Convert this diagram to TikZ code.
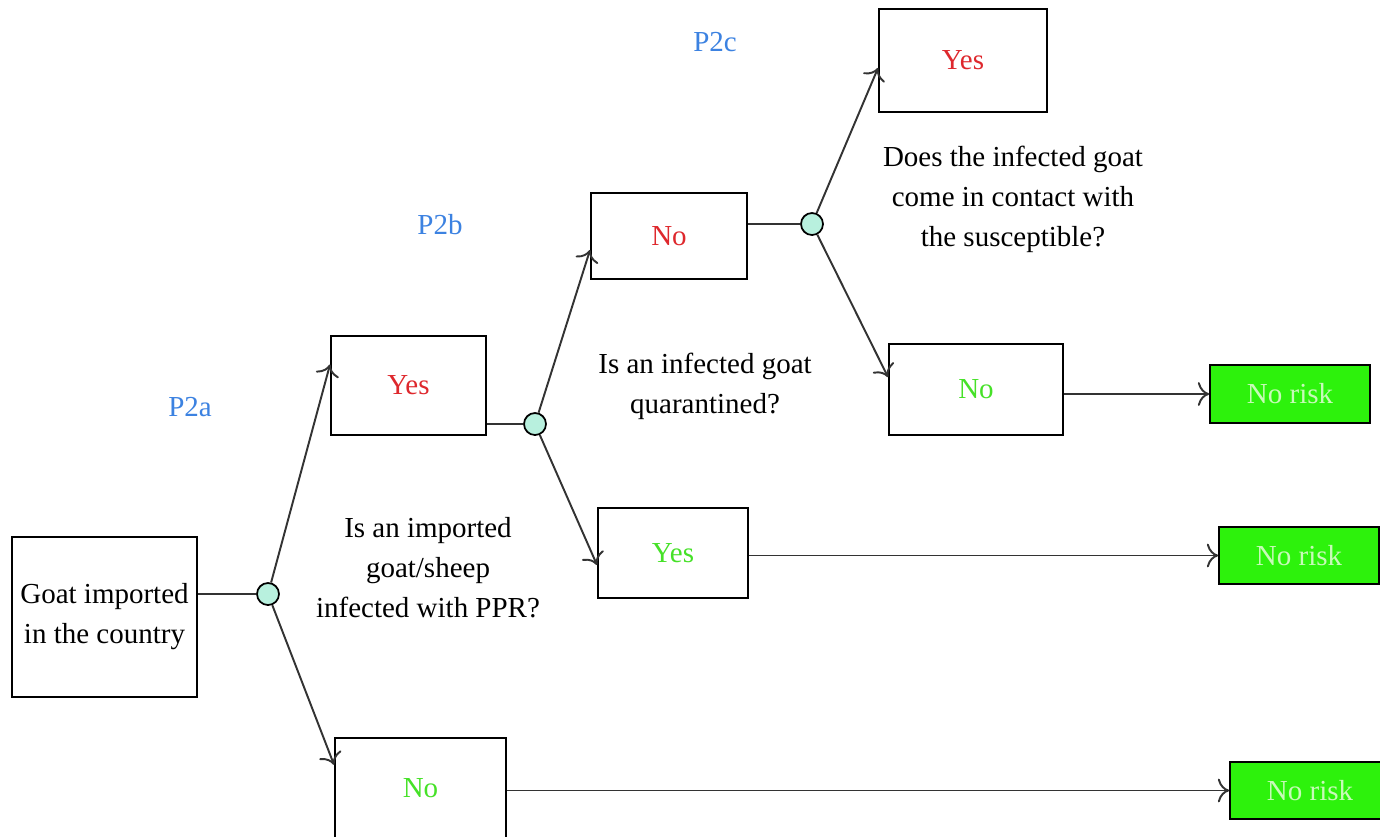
\documentclass[tikz,border=0pt]{standalone}
\usepackage{fontspec}
\setmainfont{Liberation Serif}
\usetikzlibrary{arrows.meta}
\definecolor{mint}{RGB}{184,240,222}
\definecolor{plabel}{RGB}{60,130,225}
\definecolor{yesred}{RGB}{222,40,45}
\definecolor{nogreen}{RGB}{70,225,40}
\definecolor{riskfill}{RGB}{45,242,12}
\definecolor{risktext}{RGB}{200,250,185}
\begin{document}
\begin{tikzpicture}
	[x=0.02cm,y=-0.02cm,font=\fontsize{16.5}{22.7}\selectfont,>={To[scale=1.6]},
	box/.style={rectangle,draw,line width=1.1pt,inner sep=0pt,align=center},
	chance/.style={circle,draw,line width=1pt,fill=mint,minimum size=0.44cm,inner sep=0pt},
	risk/.style={rectangle,draw,line width=1pt,fill=riskfill,text=risktext,inner sep=0pt,minimum width=3.2cm,minimum height=1.15cm},
	plab/.style={text=plabel},
	quest/.style={align=center},
	conn/.style={line width=1.1pt,black!80}]
	\useasboundingbox (0,0) rectangle (1380,836);
	% start and chance nodes
	\node[box,name=goat,minimum width=3.7cm,minimum height=3.2cm] at (104.5,617) {Goat imported\\in the country};
	\node[chance,name=c1] at (268,594) {};
	\node[chance,name=c2] at (535,424) {};
	\node[chance,name=c3] at (812,224) {};
	% outcome boxes
	\node[box,name=yesA,text=yesred,minimum width=3.1cm,minimum height=1.98cm] at (408.5,385.5) {Yes};
	\node[box,name=noBot,text=nogreen,minimum width=3.42cm,minimum height=2cm] at (420.5,788) {No};
	\node[box,name=noB,text=yesred,minimum width=3.12cm,minimum height=1.72cm] at (669,236) {No};
	\node[box,name=yesM,text=nogreen,minimum width=3cm,minimum height=1.8cm] at (673,553) {Yes};
	\node[box,name=yesT,text=yesred,minimum width=3.36cm,minimum height=2.06cm] at (963,60.5) {Yes};
	\node[box,name=noC,text=nogreen,minimum width=3.48cm,minimum height=1.82cm] at (976,389.5) {No};
	\node[risk,name=r1] at (1290,394) {No risk};
	\node[risk,name=r2] at (1299,555.5) {No risk};
	\node[risk,name=r3] at (1310,790.5) {No risk};
	% labels
	\node[plab,name=p2a] at (190,407) {P2a};
	\node[plab,name=p2b] at (440,225) {P2b};
	\node[plab,name=p2c] at (715,42) {P2c};
	\node[quest,name=q1] at (428,568) {Is an imported\\goat/sheep\\infected with PPR?};
	\node[quest,name=q2] at (705,386) {Is an infected goat\\quarantined?};
	\node[quest,name=q3] at (1013,199) {Does the infected goat\\come in contact with\\the susceptible?};
	% connectors
	\draw[conn] (c1 -| goat.east) -- (c1);
	\draw[conn] (c2 -| yesA.east) -- (c2);
	\draw[conn] (c3 -| noB.east) -- (c3);
	\draw[conn,->] (c1) -- (yesA.165);
	\draw[conn,->] (c1) -- (noBot.165);
	\draw[conn,->] (c2) -- (noB.190);
	\draw[conn,->] (c2) -- (yesM.189);
	\draw[conn,->] (c3) -- (yesT.185);
	\draw[conn,->] (c3) -- (noC.172);
	\draw[conn,->] (noC.east |- r1.west) -- (r1.west);
	\draw[conn,->] (yesM.east |- r2.west) -- (r2.west);
	\draw[conn,->] (noBot.east |- r3.west) -- (r3.west);
\end{tikzpicture}
\end{document}
